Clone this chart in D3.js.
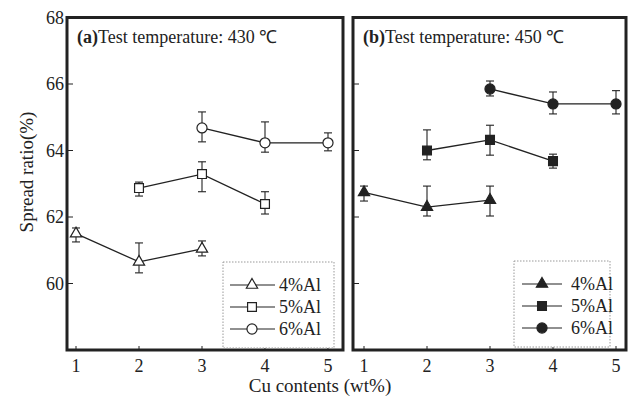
<!DOCTYPE html>
<html>
<head>
<meta charset="utf-8">
<script src="https://cdn.jsdelivr.net/npm/d3@7"></script>
<style>
  body { margin: 0; background: #fff; }
</style>
</head>
<body>
<div id="chart"></div>
<script>
// tick labels and series
var xTicks = [1, 2, 3, 4, 5];
var yTicks = [60, 62, 64, 66, 68];
var seriesNames = ["4%Al", "5%Al", "6%Al"];

// Cu contents for each Al series
var cu4 = [1, 2, 3];
var cu5 = [2, 3, 4];
var cu6 = [3, 4, 5];

// (a) 430 C : mean, upper and lower error
var a4 = [61.50, 60.65, 61.04], a4hi = [61.67, 61.22, 61.28], a4lo = [61.25, 60.32, 60.83];
var a5 = [62.87, 63.29, 62.39], a5hi = [63.05, 63.66, 62.76], a5lo = [62.63, 62.76, 62.09];
var a6 = [64.68, 64.23, 64.23], a6hi = [65.16, 64.86, 64.53], a6lo = [64.26, 63.95, 63.99];

// (b) 450 C
var b4 = [62.74, 62.30, 62.51], b4hi = [62.93, 62.93, 62.93], b4lo = [62.48, 62.03, 62.03];
var b5 = [64.00, 64.32, 63.68], b5hi = [64.62, 64.76, 63.89], b5lo = [63.72, 63.86, 63.47];
var b6 = [65.85, 65.40, 65.40], b6hi = [66.09, 65.76, 65.80], b6lo = [65.64, 65.10, 65.10];

var width = 628, height = 402;
var ink = "#222";

var svg = d3.select("#chart").append("svg")
    .attr("width", width)
    .attr("height", height)
    .attr("font-family", "'Liberation Serif', 'Times New Roman', serif")
    .attr("fill", ink);

// shared y scale
var y = d3.scaleLinear().domain([58, 68]).range([350, 17.5]);

function zip(xs, ys, his, los) {
  return xs.map(function(d, i) { return {cu: d, v: ys[i], hi: his[i], lo: los[i]}; });
}

var panels = [
  {
    title: "(a)", sub: "Test temperature: 430 \u2103", left: 67, right: 343,
    x0: 76, x1: 328, filled: false, yLabels: true,
    legend: {x: 223, y: 262, w: 111, h: 86, lx0: 230, lx1: 275, mx: 252, tx: 279},
    series: [zip(cu4, a4, a4hi, a4lo), zip(cu5, a5, a5hi, a5lo), zip(cu6, a6, a6hi, a6lo)]
  },
  {
    title: "(b)", sub: "Test temperature: 450 \u2103", left: 353, right: 626,
    x0: 364, x1: 616, filled: true, yLabels: false,
    legend: {x: 514, y: 261, w: 96, h: 86, lx0: 522, lx1: 562, mx: 542, tx: 571},
    series: [zip(cu4, b4, b4hi, b4lo), zip(cu5, b5, b5hi, b5lo), zip(cu6, b6, b6hi, b6lo)]
  }
];

var symbols = [d3.symbolTriangle, d3.symbolSquare, d3.symbolCircle];
var symSizes = [55, 78, 80];

function marker(g, k, filled) {
  return g.append("path")
      .attr("d", d3.symbol().type(symbols[k]).size(symSizes[k]))
      .attr("fill", filled ? ink : "#fff")
      .attr("stroke", ink)
      .attr("stroke-width", 1.2);
}

panels.forEach(function(p) {
  var x = d3.scaleLinear().domain([1, 5]).range([p.x0, p.x1]);
  var g = svg.append("g");

  // y ticks (inward)
  g.selectAll(".ytick")
    .data(yTicks)
    .enter().append("line")
      .attr("x1", p.left).attr("x2", p.left + 6)
      .attr("y1", function(d) { return y(d); })
      .attr("y2", function(d) { return y(d); })
      .attr("stroke", ink).attr("stroke-width", 1);

  if (p.yLabels) {
    g.selectAll(".ylab")
      .data(yTicks)
      .enter().append("text")
        .attr("x", p.left - 3)
        .attr("y", function(d) { return y(d) + 6; })
        .attr("text-anchor", "end")
        .attr("font-size", "18px")
        .text(function(d) { return d; });
  }

  // x ticks (inward) and labels
  g.selectAll(".xtick")
    .data(xTicks)
    .enter().append("line")
      .attr("x1", function(d) { return x(d); })
      .attr("x2", function(d) { return x(d); })
      .attr("y1", y(58)).attr("y2", y(58) - 4)
      .attr("stroke", ink).attr("stroke-width", 1);

  g.selectAll(".xlab")
    .data(xTicks)
    .enter().append("text")
      .attr("x", function(d) { return x(d); })
      .attr("y", 372)
      .attr("text-anchor", "middle")
      .attr("font-size", "18px")
      .text(function(d) { return d; });

  // lines, error bars, markers
  var line = d3.line()
      .x(function(d) { return x(d.cu); })
      .y(function(d) { return y(d.v); });

  p.series.forEach(function(s, k) {
    g.append("path")
      .datum(s)
      .attr("d", line)
      .attr("fill", "none")
      .attr("stroke", ink)
      .attr("stroke-width", 1.3);

    s.forEach(function(d) {
      var cx = x(d.cu);
      g.append("line")
        .attr("x1", cx).attr("x2", cx)
        .attr("y1", y(d.hi)).attr("y2", y(d.lo))
        .attr("stroke", ink).attr("stroke-width", 1.1);
      [d.hi, d.lo].forEach(function(e) {
        g.append("line")
          .attr("x1", cx - 4).attr("x2", cx + 4)
          .attr("y1", y(e)).attr("y2", y(e))
          .attr("stroke", ink).attr("stroke-width", 1.1);
      });
      marker(g, k, p.filled)
        .attr("transform", "translate(" + cx + "," + y(d.v) + ")");
    });
  });

  // frame
  g.append("rect")
    .attr("x", p.left)
    .attr("y", y(68))
    .attr("width", p.right - p.left)
    .attr("height", y(58) - y(68))
    .attr("fill", "none")
    .attr("stroke", ink)
    .attr("stroke-width", 3);

  // panel title
  var t = g.append("text")
    .attr("x", p.left + 10)
    .attr("y", 43)
    .attr("font-size", "18px");
  t.append("tspan").attr("font-weight", "bold").text(p.title);
  t.append("tspan").text(p.sub);

  // legend
  var L = p.legend;
  g.append("rect")
    .attr("x", L.x).attr("y", L.y)
    .attr("width", L.w).attr("height", L.h)
    .attr("fill", "#fff")
    .attr("stroke", "#999")
    .attr("stroke-width", 1)
    .attr("stroke-dasharray", "1.5,1.5");

  seriesNames.forEach(function(name, k) {
    var ly = L.y + 23 + k * 22;
    g.append("line")
      .attr("x1", L.lx0).attr("x2", L.lx1)
      .attr("y1", ly).attr("y2", ly)
      .attr("stroke", ink).attr("stroke-width", 1.2);
    marker(g, k, p.filled)
      .attr("transform", "translate(" + L.mx + "," + ly + ")");
    g.append("text")
      .attr("x", L.tx)
      .attr("y", ly + 6)
      .attr("font-size", "18px")
      .text(name);
  });
});

// axis titles
svg.append("text")
  .attr("x", 320)
  .attr("y", 392)
  .attr("text-anchor", "middle")
  .attr("font-size", "19px")
  .text("Cu contents (wt%)");

svg.append("text")
  .attr("transform", "translate(33,172) rotate(-90)")
  .attr("text-anchor", "middle")
  .attr("font-size", "19px")
  .text("Spread ratio(%)");
</script>
</body>
</html>
